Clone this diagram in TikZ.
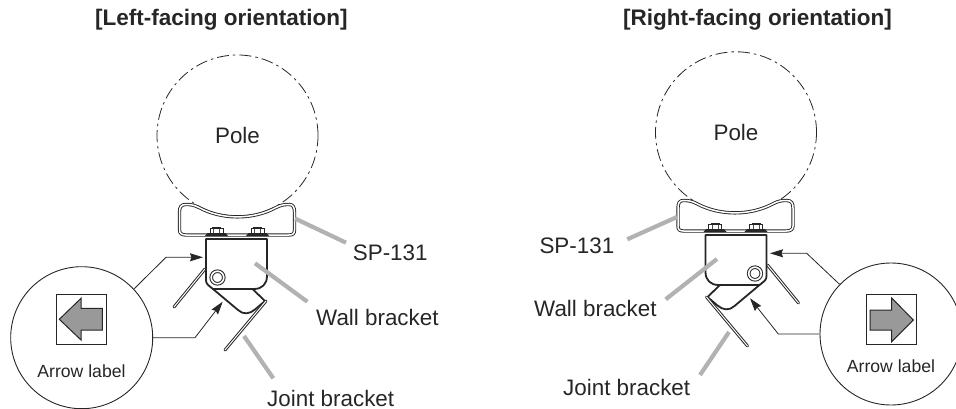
\documentclass[tikz,border=0pt]{standalone}
\usepackage{fontspec}
\setmainfont{Liberation Sans}
\usetikzlibrary{arrows.meta}
\tikzset{
  thinline/.style={line width=0.7pt,black!85},
  heavyline/.style={line width=1.8pt,black!85,line join=round},
  doubleline/.style={line width=0.9pt,black!85,double=white,double distance=1.5pt},
  flange/.style={line width=1pt,black!85,double=white,double distance=1pt,line cap=round},
  leader/.style={line width=4.2pt,black!30},
  pointer/.style={line width=0.8pt,black!85,-{Stealth[length=13pt,width=8pt,inset=1.5pt]}},
  polecircle/.style={circle,draw=black!85,line width=0.8pt,minimum size=161pt,inner sep=0pt,
    dash pattern=on 12pt off 4pt on 2.5pt off 4pt,font=\fontsize{22.4}{26}\selectfont,text=black!85},
  callout/.style={circle,draw=black!85,line width=0.9pt,minimum size=142pt,inner sep=0pt},
  iconbox/.style={draw=black!85,line width=0.9pt,minimum width=50pt,minimum height=50pt,inner sep=0pt},
  icon/.style={draw=black!85,line width=1pt,fill=black!40,line join=miter},
  titletext/.style={font=\fontsize{22.5}{26}\selectfont\bfseries,inner sep=0pt,text=black!85},
  labeltext/.style={font=\fontsize{22.4}{26}\selectfont,inner sep=0pt,text=black!85},
  smalltext/.style={font=\fontsize{17.6}{20}\selectfont,inner sep=0pt,text=black!85}
}
\newcommand{\boltpair}[1]{%
  \fill[black!85] (#1-11.5,236) -- (#1-9,233) -- (#1+9,233) -- (#1+11.5,236) -- cycle;
  \draw[thinline,fill=white] (#1-6.5,233) rectangle (#1+6.5,228.5);
  \draw[line width=0.5pt,black!70] (#1-3,228.5) -- (#1-3,233) (#1+3,228.5) -- (#1+3,233);
  \draw[line width=0.6pt,black!85] (#1-4,228.5) -- (#1-4,227) -- (#1+4,227) -- (#1+4,228.5);
}
\newcommand{\mountassembly}{%
  \draw[doubleline] (186,204.5) .. controls (191,204.5) and (194,205) .. (199,207.5)
    .. controls (222,220) and (253,220) .. (276,207.5)
    .. controls (281,205) and (284,204.5) .. (289,204.5)
    .. controls (293,204.5) and (294.5,207) .. (294.5,212) -- (294.5,230)
    .. controls (294.5,233.5) and (293,235) .. (289,235) -- (186,235)
    .. controls (182,235) and (179.5,233.5) .. (179.5,230) -- (179.5,212)
    .. controls (179.5,207) and (181,204.5) .. (186,204.5) -- cycle;
  \boltpair{216.5}
  \boltpair{257.5}
  \draw[flange] (205,269) -- (174,307);
  \draw[heavyline] (206,280) -- (206,239) -- (267,239) -- (267,276)
    .. controls (267,284) and (262,289) .. (254,289) -- (213,289);
  \draw[heavyline] (252.5,289) -- (265,301) -- (255,309.5)
    .. controls (250,314) and (243,315) .. (238,310) -- (213,289)
    .. controls (208,285) and (206,284) .. (206,280);
  \draw[flange] (266,301) -- (225,350);
  \draw[line width=1pt,black!85,double=white,double distance=1.6pt] (217.5,277.5) circle (6.3);
}
\begin{document}
\begin{tikzpicture}[x=1pt,y=-1pt]
\useasboundingbox (0,0) rectangle (956,409);
% left
\node[titletext,anchor=west] (titleL) at (95,20) {[Left-facing orientation]};
\node[polecircle] (poleL) at (237.5,135.5) {Pole};
\begin{scope} \mountassembly \end{scope}
\node[callout] (callL) at (81.7,337.7) {};
\node[iconbox] (boxL) at (81,319.6) {};
\draw[icon] (59.3,319.3) -- (81,298.3) -- (81,308.3) -- (102.3,308.3) -- (102.3,330) -- (81,330) -- (81,340) -- cycle;
\node[smalltext] (capL) at (81.5,371.5) {Arrow label};
\coordinate (a1L) at (203,257.3);
\coordinate (a2L) at (222.7,301.7);
\draw[pointer] (callL.43.7) -- (166,257.3) -- (a1L);
\draw[pointer] (callL.0) -- (195,337.7) -- (a2L);
\node[labeltext,anchor=west] (spL) at (352.7,253) {SP-131};
\node[labeltext,anchor=west] (wbL) at (316,317) {Wall bracket};
\node[labeltext,anchor=west] (jbL) at (267,398) {Joint bracket};
\coordinate (s1L) at (295,218.5); \coordinate (s2L) at (346,242.7);
\coordinate (w1L) at (255,263.3); \coordinate (w2L) at (307.3,301.7);
\coordinate (j1L) at (244,336); \coordinate (j2L) at (273.3,378.3);
\draw[leader] (s1L) -- (s2L);
\draw[leader] (w1L) -- (w2L);
\draw[leader] (j1L) -- (j2L);
% right
\node[titletext,anchor=west] (titleR) at (623,19.5) {[Right-facing orientation]};
\node[polecircle] (poleR) at (736,132.3) {Pole};
\begin{scope}[shift={(972.5,-4)},xscale=-1] \mountassembly \end{scope}
\node[callout] (callR) at (891,334) {};
\node[iconbox] (boxR) at (891.7,319.6) {};
\draw[icon] (913.3,320) -- (891.7,298) -- (891.7,310) -- (870,310) -- (870,330) -- (891.7,330) -- (891.7,341.7) -- cycle;
\node[smalltext] (capR) at (891,366.7) {Arrow label};
\coordinate (a1R) at (770,253.3);
\coordinate (a2R) at (750,298.3);
\draw[pointer] (callR.136) -- (806.7,253.3) -- (a1R);
\draw[pointer] (callR.180) -- (778.3,334) -- (a2R);
\node[labeltext,anchor=west] (spR) at (539.3,246) {SP-131};
\node[labeltext,anchor=west] (wbR) at (534,308.5) {Wall bracket};
\node[labeltext,anchor=west] (jbR) at (563,387.5) {Joint bracket};
\coordinate (s1R) at (677,217); \coordinate (s2R) at (627.3,239.3);
\coordinate (w1R) at (717,259); \coordinate (w2R) at (665.7,299.3);
\coordinate (j1R) at (729,332); \coordinate (j2R) at (700,375);
\draw[leader] (s1R) -- (s2R);
\draw[leader] (w1R) -- (w2R);
\draw[leader] (j1R) -- (j2R);
\end{tikzpicture}
\end{document}
